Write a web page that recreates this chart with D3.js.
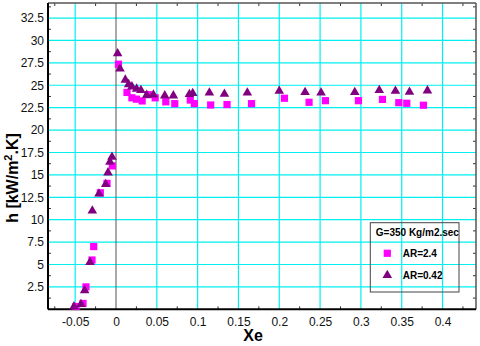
<!DOCTYPE html>
<html>
<head>
<meta charset="utf-8">
<script src="https://cdn.jsdelivr.net/npm/d3@7"></script>
<style>
  body { margin: 0; background: #fff; }
  text { font-family: "Liberation Sans", Arial, sans-serif; }
</style>
</head>
<body>
<div id="chart"></div>
<script>
// AR=2.4 (squares)
var sqX = [-0.049, -0.0404, -0.0368, -0.0294, -0.0273, -0.0192, -0.011, -0.0045,
    0.003, 0.0135, 0.0195, 0.025, 0.032, 0.0395, 0.048, 0.061, 0.072, 0.091, 0.096,
    0.116, 0.136, 0.166, 0.2063, 0.2365, 0.2565, 0.297, 0.3264, 0.3464, 0.3562, 0.3766];
var sqY = [0.31, 0.65, 2.5, 5.5, 7.0, 13.0, 14.05, 16.0,
    27.35, 24.2, 23.6, 23.45, 23.25, 23.95, 23.6, 23.15, 22.95, 23.35, 22.95,
    22.8, 22.85, 22.95, 23.55, 23.1, 23.28, 23.28, 23.42, 23.06, 22.99, 22.77];

// AR=0.42 (triangles)
var triX = [-0.0515, -0.0429, -0.0384, -0.0319, -0.029, -0.0208, -0.0126, -0.0098, -0.0074, -0.0049,
    0.002, 0.0049, 0.0114, 0.0155, 0.0195, 0.0253, 0.0305, 0.0376, 0.0458, 0.0597, 0.0703,
    0.0899, 0.094, 0.1144, 0.1328, 0.1609, 0.2, 0.2316, 0.2512, 0.2925, 0.3225, 0.3423, 0.3595, 0.3815];
var triY = [0.3, 0.56, 2.1, 5.25, 11.0, 12.9, 13.95, 15.25, 16.45, 17.0,
    28.55, 26.85, 25.6, 25.1, 24.85, 24.6, 24.45, 23.9, 23.95, 23.84, 23.84,
    24.0, 24.1, 24.17, 24.03, 24.17, 24.36, 24.22, 24.17, 24.22, 24.45, 24.36, 24.25, 24.4];

var xTicks = [-0.05, 0, 0.05, 0.1, 0.15, 0.2, 0.25, 0.3, 0.35, 0.4];
var xTickLabels = ["-0.05", "0", "0.05", "0.1", "0.15", "0.2", "0.25", "0.3", "0.35", "0.4"];
var yTicks = [2.5, 5, 7.5, 10, 12.5, 15, 17.5, 20, 22.5, 25, 27.5, 30, 32.5];
var yTickLabels = ["2.5", "5", "7.5", "10", "12.5", "15", "17.5", "20", "22.5", "25", "27.5", "30", "32.5"];
var xMinor = [-0.075, -0.025, 0.025, 0.075, 0.125, 0.175, 0.225, 0.275, 0.325, 0.375, 0.425];
var yMinor = [1.25, 3.75, 6.25, 8.75, 11.25, 13.75, 16.25, 18.75, 21.25, 23.75, 26.25, 28.75, 31.25, 33.75];

var seriesNames = ["AR=2.4", "AR=0.42"];
var legendTitle = "G=350 Kg/m2.sec";

var margin = {top: 3, right: 4, bottom: 36.7, left: 48},
    W = 480, H = 346,
    width = W - margin.left - margin.right,
    height = H - margin.top - margin.bottom;

var svg = d3.select("#chart").append("svg")
    .attr("width", W).attr("height", H)
    .append("g")
    .attr("transform", "translate(" + margin.left + "," + margin.top + ")");

var x = d3.scaleLinear().domain([-0.0833, 0.441]).range([0, width]);
var y = d3.scaleLinear().domain([0, 34.18]).range([height, 0]);

// grid
svg.selectAll(".vgrid").data(xTicks.filter(function(d) { return d !== 0; }))
    .enter().append("line")
    .attr("x1", function(d) { return x(d); }).attr("x2", function(d) { return x(d); })
    .attr("y1", 0).attr("y2", height)
    .attr("stroke", "#00f0f0").attr("stroke-width", 1.2);
svg.selectAll(".hgrid").data(yTicks)
    .enter().append("line")
    .attr("y1", function(d) { return y(d); }).attr("y2", function(d) { return y(d); })
    .attr("x1", 0).attr("x2", width)
    .attr("stroke", "#00f0f0").attr("stroke-width", 1.2);

// zero line
svg.append("line")
    .attr("x1", x(0)).attr("x2", x(0)).attr("y1", 0).attr("y2", height)
    .attr("stroke", "#555").attr("stroke-width", 1);

// minor ticks on all four sides (inside)
var tl = 3;
xMinor.forEach(function(v) {
    svg.append("line").attr("x1", x(v)).attr("x2", x(v)).attr("y1", height).attr("y2", height - tl)
        .attr("stroke", "#333");
    svg.append("line").attr("x1", x(v)).attr("x2", x(v)).attr("y1", 0).attr("y2", tl)
        .attr("stroke", "#333");
});
yMinor.forEach(function(v) {
    if (y(v) < 1) return;
    svg.append("line").attr("y1", y(v)).attr("y2", y(v)).attr("x1", 0).attr("x2", tl)
        .attr("stroke", "#333");
    svg.append("line").attr("y1", y(v)).attr("y2", y(v)).attr("x1", width).attr("x2", width - tl)
        .attr("stroke", "#333");
});

// axes
var xAxis = svg.append("g")
    .attr("transform", "translate(0," + height + ")")
    .call(d3.axisBottom(x).tickValues(xTicks).tickSize(0).tickPadding(8)
        .tickFormat(function(d, i) { return xTickLabels[i]; }));
xAxis.select(".domain").remove();
xAxis.selectAll("text").attr("font-size", 12).attr("fill", "#111")
    .style("font-family", "'Liberation Sans', Arial, sans-serif");

var yAxis = svg.append("g")
    .call(d3.axisLeft(y).tickValues(yTicks).tickSize(0).tickPadding(4)
        .tickFormat(function(d, i) { return yTickLabels[i]; }));
yAxis.select(".domain").remove();
yAxis.selectAll("text").attr("font-size", 12).attr("fill", "#111")
    .style("font-family", "'Liberation Sans', Arial, sans-serif");

// frame
svg.append("line").attr("x1", 0).attr("x2", width).attr("y1", 0).attr("y2", 0)
    .attr("stroke", "#555").attr("stroke-width", 1.5);
svg.append("line").attr("x1", width).attr("x2", width).attr("y1", 0).attr("y2", height)
    .attr("stroke", "#555").attr("stroke-width", 1.5);
svg.append("line").attr("x1", 0).attr("x2", width).attr("y1", height).attr("y2", height)
    .attr("stroke", "#000").attr("stroke-width", 2);
svg.append("line").attr("x1", 0).attr("x2", 0).attr("y1", 0).attr("y2", height)
    .attr("stroke", "#000").attr("stroke-width", 2);

// data
var sqData = sqX.map(function(v, i) { return {x: v, y: sqY[i]}; });
var triData = triX.map(function(v, i) { return {x: v, y: triY[i]}; });
var sqSym = d3.symbol().type(d3.symbolSquare).size(52);
var triSym = d3.symbol().type(d3.symbolTriangle).size(40);

svg.selectAll(".sq").data(sqData).enter().append("path")
    .attr("d", sqSym)
    .attr("transform", function(d) { return "translate(" + x(d.x) + "," + y(d.y) + ")"; })
    .attr("fill", "#ff00ff");
svg.selectAll(".tri").data(triData).enter().append("path")
    .attr("d", triSym)
    .attr("transform", function(d) { return "translate(" + x(d.x) + "," + y(d.y) + ")"; })
    .attr("fill", "#800080");

// legend
var lg = svg.append("g").attr("transform", "translate(" + (370.3 - margin.left) + "," + (222.7 - margin.top) + ")");
lg.append("rect").attr("width", 88.7).attr("height", 69.3)
    .attr("fill", "none").attr("stroke", "#444").attr("stroke-width", 1);
lg.append("text").attr("x", 5.5).attr("y", 13.5).attr("font-size", 10).attr("font-weight", "bold")
    .text(legendTitle);
lg.append("path").attr("d", sqSym).attr("fill", "#ff00ff")
    .attr("transform", "translate(17,30.6)");
lg.append("path").attr("d", triSym).attr("fill", "#800080")
    .attr("transform", "translate(17,52.6)");
lg.append("text").attr("x", 32.4).attr("y", 34.3).attr("font-size", 10).attr("font-weight", "bold")
    .text(seriesNames[0]);
lg.append("text").attr("x", 32.4).attr("y", 56.3).attr("font-size", 10).attr("font-weight", "bold")
    .text(seriesNames[1]);

// axis titles
svg.append("text")
    .attr("x", 253 - margin.left).attr("y", 341 - margin.top)
    .attr("text-anchor", "middle").attr("font-size", 16).attr("font-weight", "bold")
    .text("Xe");
var yt = svg.append("text")
    .attr("transform", "translate(" + (18 - margin.left) + "," + (178 - margin.top) + ") rotate(-90)")
    .attr("text-anchor", "middle").attr("font-size", 16).attr("font-weight", "bold");
yt.append("tspan").text("h [kW/m");
yt.append("tspan").attr("font-size", 11).attr("dy", -6).text("2");
yt.append("tspan").attr("dy", 6).text(".K]");
</script>
</body>
</html>
